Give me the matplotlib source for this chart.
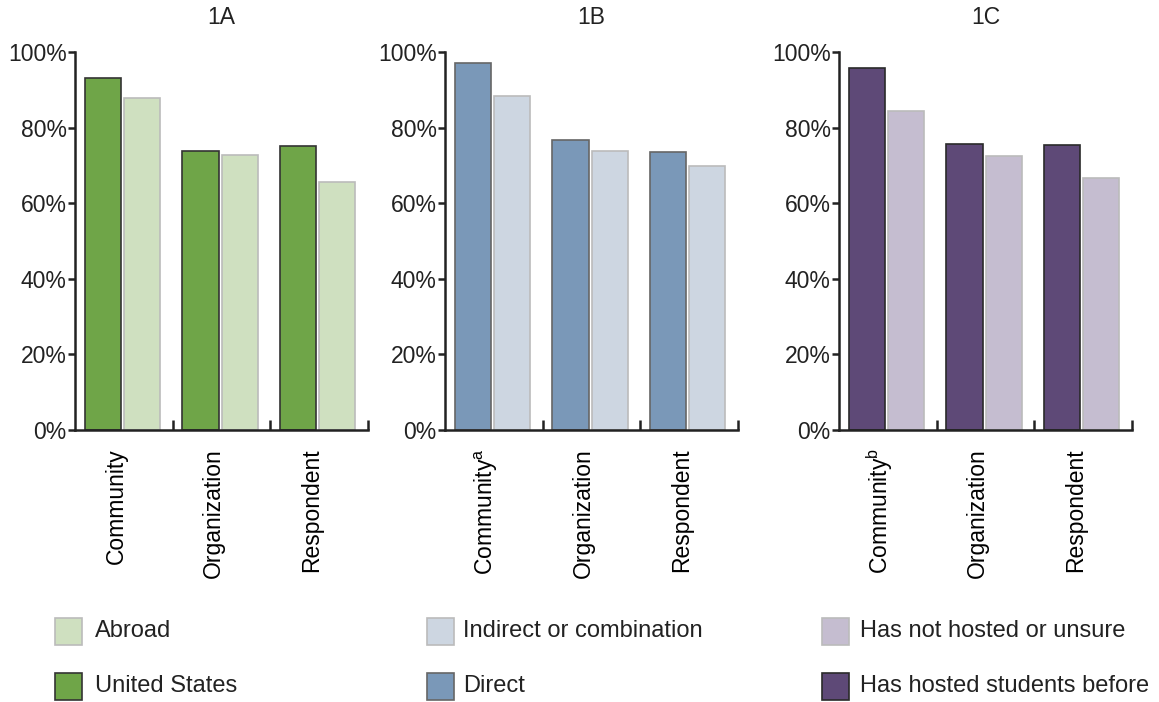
import matplotlib
matplotlib.use("Agg")
import matplotlib.pyplot as plt
from matplotlib.patches import Rectangle

plt.rcParams['font.family'] = ['Liberation Sans', 'DejaVu Sans']
plt.rcParams['mathtext.fontset'] = 'custom'
plt.rcParams['mathtext.rm'] = 'Liberation Sans'
plt.rcParams['mathtext.it'] = 'Liberation Sans'

# ---- data ----
panel_titles = ["1A", "1B", "1C"]
cat_a = ["Community", "Organization", "Respondent"]
cat_b = ["Community$^{\\mathrm{a}}$", "Organization", "Respondent"]
cat_c = ["Community$^{\\mathrm{b}}$", "Organization", "Respondent"]

us_vals = [93.2, 73.9, 75.1]
abroad_vals = [87.9, 72.7, 65.6]
direct_vals = [97.1, 76.8, 73.5]
indirect_vals = [88.3, 73.7, 69.9]
hosted_vals = [95.8, 75.7, 75.3]
nothosted_vals = [84.3, 72.4, 66.6]

dark_names = ["United States", "Direct", "Has hosted students before"]
light_names = ["Abroad", "Indirect or combination", "Has not hosted or unsure"]

yticks = [0, 20, 40, 60, 80, 100]
ytick_labels = ["0%", "20%", "40%", "60%", "80%", "100%"]

# ---- style ----
dark_colors = ["#6FA548", "#7A98B8", "#5E4977"]
light_colors = ["#CFE0C0", "#CDD6E1", "#C5BDD0"]
dark_edges = ["#333333", "#666666", "#2A2A2A"]
light_edge = "#BBBBBB"

W, H = 1159, 702
fig = plt.figure(figsize=(W / 100, H / 100), dpi=100)

axes_left_px = [75, 445, 839]
axes_w_px = 293
top_px, bottom_px = 52, 430

panels = [
    (cat_a, us_vals, abroad_vals),
    (cat_b, direct_vals, indirect_vals),
    (cat_c, hosted_vals, nothosted_vals),
]

for k, (cats, dvals, lvals) in enumerate(panels):
    ax = fig.add_axes([axes_left_px[k] / W, 1 - bottom_px / H,
                       axes_w_px / W, (bottom_px - top_px) / H])
    n = len(cats)
    xd = [i + 0.285 for i in range(n)]
    xl = [i + 0.685 for i in range(n)]
    ax.bar(xd, dvals, width=0.37, color=dark_colors[k], edgecolor=dark_edges[k],
           linewidth=1.2, zorder=2)
    ax.bar(xl, lvals, width=0.37, color=light_colors[k], edgecolor=light_edge,
           linewidth=1.2, zorder=2)
    ax.set_xlim(0, n)
    ax.set_ylim(0, 100)
    for s in ["top", "right"]:
        ax.spines[s].set_visible(False)
    for s in ["left", "bottom"]:
        ax.spines[s].set_linewidth(1.8)
        ax.spines[s].set_color("#222222")
    ax.set_yticks(yticks)
    ax.set_yticklabels(ytick_labels)
    ax.tick_params(axis='y', direction='out', length=5, width=1.8, pad=1,
                   labelsize=16.5, colors="#222222")
    ax.set_xticks(list(range(1, n + 1)))
    ax.set_xticklabels([])
    ax.tick_params(axis='x', which='major', direction='in', length=7, width=1.8,
                   colors="#222222")
    ax.set_xticks([i + 0.42 for i in range(n)], minor=True)
    ax.set_xticklabels(cats, minor=True, rotation=90, fontsize=16.5,
                       va='top', ha='center')
    ax.tick_params(axis='x', which='minor', length=0, pad=13)
    fig.text((axes_left_px[k] + axes_w_px / 2) / W, 1 - 18 / H, panel_titles[k],
             ha='center', va='center', fontsize=16.5, color="#222222")

# ---- legend ----
leg_sq_x = [55, 427, 822]
leg_txt_x = [95, 463, 860]
row_y = [631, 686]
sq = 27
for k in range(3):
    for r, (col, ec, name) in enumerate([(light_colors[k], light_edge, light_names[k]),
                                         (dark_colors[k], dark_edges[k], dark_names[k])]):
        cy = row_y[r]
        fig.add_artist(Rectangle((leg_sq_x[k] / W, 1 - (cy + sq / 2) / H), sq / W, sq / H,
                                 transform=fig.transFigure, facecolor=col,
                                 edgecolor=ec, linewidth=1.2))
        fig.text(leg_txt_x[k] / W, 1 - cy / H, name, ha='left', va='center',
                 fontsize=17, color="#222222")

fig.savefig("out.png", dpi=100)
